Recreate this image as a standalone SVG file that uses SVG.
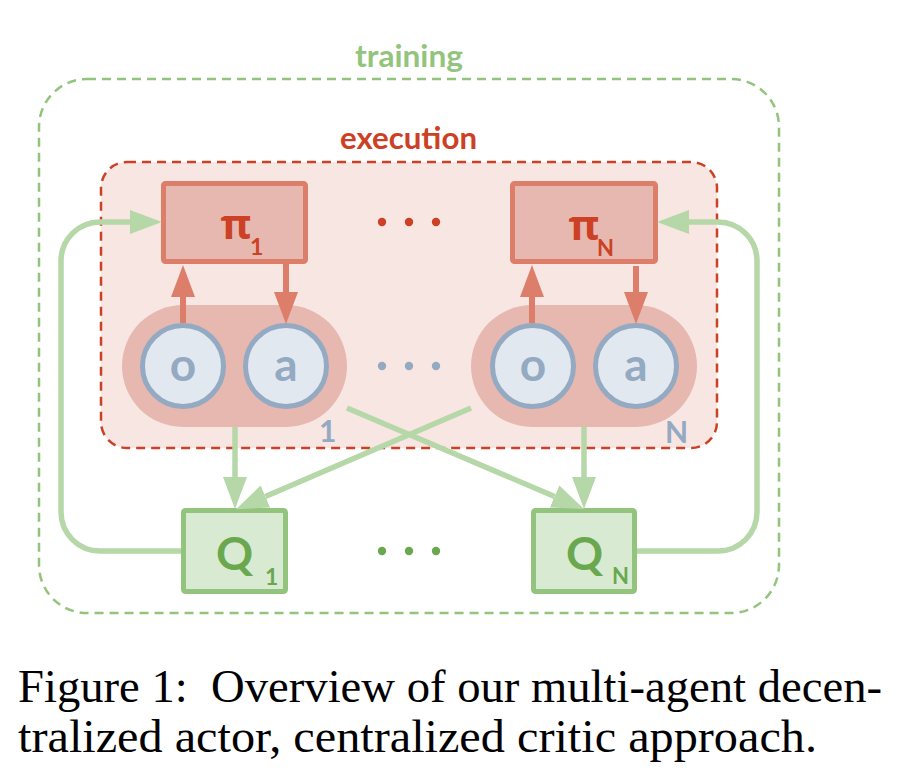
<svg xmlns="http://www.w3.org/2000/svg" width="914" height="778" viewBox="0 0 914 778">
<style>
  .lbl { font-family: Lato, "Open Sans", "DejaVu Sans", sans-serif; font-weight: 700; }
  .greek { font-family: "Open Sans", "DejaVu Sans", sans-serif; font-weight: 700; }
  .frame-g { fill: none; stroke: #93c47d; stroke-width: 2.5; stroke-dasharray: 9 6; }
  .frame-r { fill: #f8e6e3; stroke: #cc4125; stroke-width: 2.5; stroke-dasharray: 9 6; }
  .pi-box { fill: #e6b8af; stroke: #dd7e6b; stroke-width: 5; }
  .pill { fill: #e6b8af; }
  .var { fill: #e2e8ef; stroke: #94a9c2; stroke-width: 5; }
  .var-t { fill: #94a9c2; font-size: 46px; text-anchor: middle; }
  .q-box { fill: #d9ead3; stroke: #93c47d; stroke-width: 5; }
  .q-t { fill: #6aa84f; }
  .pi-t { fill: #cc4125; }
  .red-c { fill: none; stroke: #dd7e6b; stroke-width: 6; }
  .green-c { fill: none; stroke: #b6d7a8; stroke-width: 5.5; }
  .caption { font-family: "Liberation Serif", "Times New Roman", serif; font-size: 46px; fill: #000; }
</style>
<defs>
  <marker id="ah-red" markerUnits="userSpaceOnUse" markerWidth="40" markerHeight="30" refX="0" refY="12" orient="auto" viewBox="0 0 40 24">
    <path d="M0,0 L32,12 L0,24 z" fill="#dd7e6b"/>
  </marker>
  <marker id="ah-green" markerUnits="userSpaceOnUse" markerWidth="40" markerHeight="30" refX="0" refY="12" orient="auto" viewBox="0 0 40 24">
    <path d="M0,0 L32,12 L0,24 z" fill="#b6d7a8"/>
  </marker>
</defs>

<g id="training">
  <rect class="frame-g" x="39" y="79" width="740" height="534" rx="48"/>
  <text class="lbl" x="355" y="67" font-size="30" fill="#93c47d" textLength="108" lengthAdjust="spacingAndGlyphs">training</text>
</g>

<g id="execution">
  <rect class="frame-r" x="101" y="162" width="616" height="286" rx="26"/>
  <text class="lbl" x="340" y="149" font-size="30" fill="#cc4125" textLength="137" lengthAdjust="spacingAndGlyphs">execution</text>
</g>

<g id="pi1">
  <rect class="pi-box" x="163.5" y="183.5" width="142" height="78" rx="2"/>
  <text class="greek pi-t" x="236" y="239" font-size="42" text-anchor="middle">π</text>
  <text class="lbl pi-t" x="250" y="255" font-size="23">1</text>
</g>

<g id="piN">
  <rect class="pi-box" x="512.5" y="183.5" width="143" height="78" rx="2"/>
  <text class="greek pi-t" x="584" y="240" font-size="42" text-anchor="middle">π</text>
  <text class="lbl pi-t" x="597" y="256" font-size="22">N</text>
</g>

<g id="dots-pi" fill="#cc4125">
  <circle cx="382" cy="222" r="4.2"/>
  <circle cx="409" cy="222" r="4.2"/>
  <circle cx="436" cy="222" r="4.2"/>
</g>

<g id="agent1">
  <rect class="pill" x="122" y="305" width="225" height="122" rx="61"/>
  <circle class="var" cx="183" cy="366" r="40.5"/>
  <text class="lbl var-t" x="183" y="381">o</text>
  <circle class="var" cx="286" cy="366" r="40.5"/>
  <text class="lbl var-t" x="286" y="381">a</text>
  <text class="lbl" x="319" y="442" font-size="30" fill="#94a9c2">1</text>
</g>

<g id="agentN">
  <rect class="pill" x="471" y="305" width="226" height="122" rx="61"/>
  <circle class="var" cx="533" cy="366" r="40.5"/>
  <text class="lbl var-t" x="533" y="381">o</text>
  <circle class="var" cx="636" cy="366" r="40.5"/>
  <text class="lbl var-t" x="636" y="381">a</text>
  <text class="lbl" x="665" y="443" font-size="30" fill="#94a9c2">N</text>
</g>

<g id="dots-agent" fill="#94a9c2">
  <circle cx="382" cy="366" r="4.2"/>
  <circle cx="409" cy="366" r="4.2"/>
  <circle cx="436" cy="366" r="4.2"/>
</g>

<g id="q1">
  <rect class="q-box" x="183.5" y="510.5" width="102" height="81" rx="2"/>
  <text class="lbl q-t" x="216" y="570" font-size="46">Q</text>
  <text class="lbl q-t" x="265" y="585" font-size="23">1</text>
</g>

<g id="qN">
  <rect class="q-box" x="533.5" y="510.5" width="101" height="81" rx="2"/>
  <text class="lbl q-t" x="566" y="570" font-size="46">Q</text>
  <text class="lbl q-t" x="612" y="584" font-size="22">N</text>
</g>

<g id="dots-q" fill="#6aa84f">
  <circle cx="382" cy="551" r="4.2"/>
  <circle cx="409" cy="551" r="4.2"/>
  <circle cx="436" cy="551" r="4.2"/>
</g>

<g id="connectors">
  <path class="red-c" d="M183,323 V297" marker-end="url(#ah-red)"/>
  <path class="red-c" d="M286,264 V292" marker-end="url(#ah-red)"/>
  <path class="red-c" d="M532,323 V297" marker-end="url(#ah-red)"/>
  <path class="red-c" d="M636,266 V292" marker-end="url(#ah-red)"/>
  <path class="green-c" d="M235,427 V477" marker-end="url(#ah-green)"/>
  <path class="green-c" d="M584,427 V477" marker-end="url(#ah-green)"/>
  <path class="green-c" d="M347,408 L554.6,496.5" marker-end="url(#ah-green)"/>
  <path class="green-c" d="M471,408 L265.4,496.5" marker-end="url(#ah-green)"/>
  <path class="green-c" d="M181,551 H100 A39,39 0 0 1 61,512 V261 A39,39 0 0 1 100,222 H130" marker-end="url(#ah-green)"/>
  <path class="green-c" d="M637,551 H718 A39,39 0 0 0 757,512 V261 A39,39 0 0 0 718,222 H689" marker-end="url(#ah-green)"/>
</g>

<g id="caption">
  <text class="caption" x="18" y="702" xml:space="preserve" textLength="864" lengthAdjust="spacingAndGlyphs">Figure 1:  Overview of our multi-agent decen-</text>
  <text class="caption" x="18" y="752" textLength="799" lengthAdjust="spacingAndGlyphs">tralized actor, centralized critic approach.</text>
</g>
</svg>
